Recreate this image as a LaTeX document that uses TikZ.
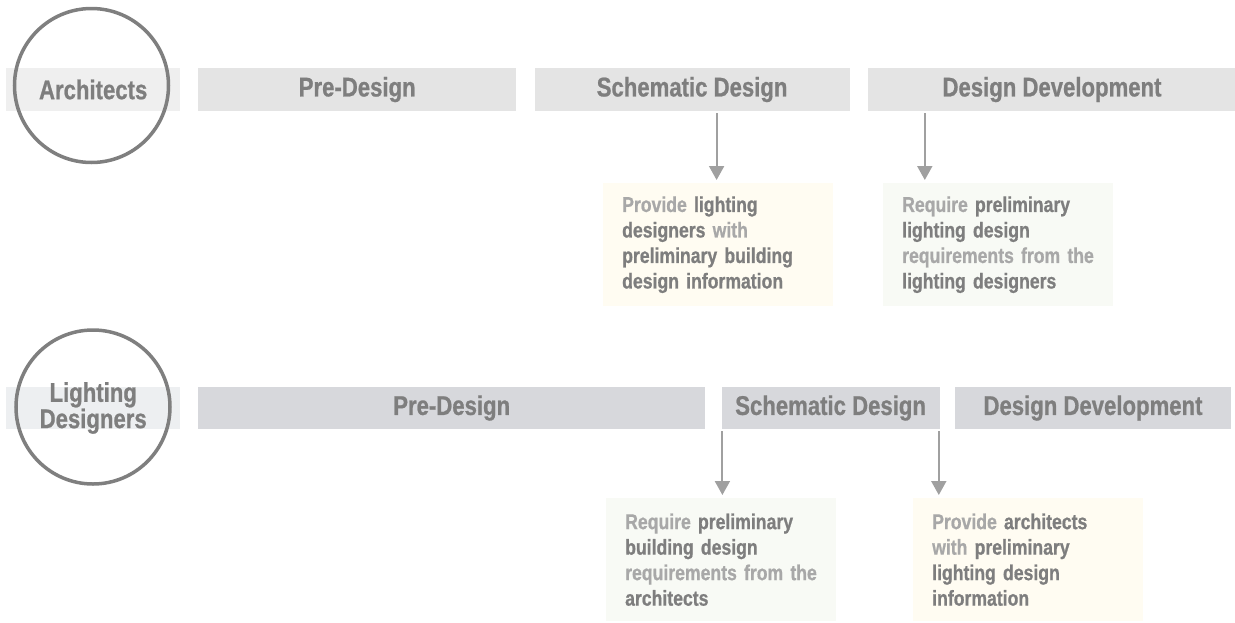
\documentclass[tikz,border=0pt]{standalone}
\usepackage{fontspec}
\setmainfont{Liberation Sans}[FakeStretch=0.82, BoldFeatures={FakeBold=0.8}]
\usepackage{xcolor}
\usetikzlibrary{positioning, arrows.meta}

\definecolor{barA}{HTML}{E4E4E4}
\definecolor{barB}{HTML}{D7D8DC}
\definecolor{roleA}{HTML}{EFEFEF}
\definecolor{roleB}{HTML}{EDEFF1}
\definecolor{ringgray}{HTML}{7F7F7F}
\definecolor{darktxt}{HTML}{7E7E7E}
\definecolor{softtxt}{HTML}{A8A8A8}
\definecolor{arrowgray}{HTML}{A0A0A0}
\definecolor{warm}{HTML}{FFFCF2}
\definecolor{cool}{HTML}{F8FAF5}

\newcommand{\soft}[1]{\textcolor{softtxt}{#1}}

\begin{document}
\begin{tikzpicture}[x=1pt, y=-1pt, >={Triangle[width=15pt,length=14pt]},
    phase/.style={inner sep=0pt, anchor=west, text=darktxt,
        font=\bfseries\fontsize{27}{23}\selectfont},
    phaseA/.style={phase, fill=barA, minimum height=43pt},
    phaseB/.style={phase, fill=barB, minimum height=42pt},
    ring/.style={draw=ringgray, line width=3.5pt, circle, minimum size=154pt, inner sep=0pt},
    note/.style={anchor=north west, minimum width=230pt, minimum height=123pt,
        inner xsep=19pt, text width=192pt, align=left, text=darktxt,
        font=\bfseries\fontsize{21.5}{25.5}\selectfont},
    flow/.style={->, draw=arrowgray, line width=2pt, shorten <=2pt, shorten >=3pt}]
    \useasboundingbox (0,0) rectangle (1235,622);

    \node[phaseA, fill=roleA, minimum width=174pt] (arch) at (6,89.5) {Architects};
    \node[ring] (archRing) at (91.5,85.5) {};
    \node[phaseA, minimum width=318pt] (preA) at (198,89.5) {Pre-Design};
    \node[phaseA, minimum width=315pt, right=18pt of preA] (schA) {Schematic Design};
    \node[phaseA, minimum width=368pt, right=18pt of schA] (devA) {Design Development};

    \node[phaseB, fill=roleB, minimum width=174pt] (lightBar) at (6,408) {};
    \node[ring] (lightRing) at (93,407) {};
    \node[phase, anchor=center, align=center] (light) at (lightBar) {Lighting\\Designers};
    \node[phaseB, minimum width=507pt] (preB) at (198,408) {Pre-Design};
    \node[phaseB, minimum width=218pt, right=16pt of preB] (schB) {Schematic Design};
    \node[phaseB, minimum width=276pt, right=15pt of schB] (devB) {Design Development};

    \node[note, fill=warm] (noteA1) at (603,183)
        {\soft{Provide} lighting\\designers \soft{with}\\preliminary building\\design information};
    \node[note, fill=cool] (noteA2) at (883,183)
        {\soft{Require} preliminary\\lighting design\\\soft{requirements from the}\\lighting designers};
    \node[note, fill=cool] (noteB1) at (606,498)
        {\soft{Require} preliminary\\building design\\\soft{requirements from the}\\architects};
    \node[note, fill=warm] (noteB2) at (913,498)
        {\soft{Provide} architects\\\soft{with} preliminary\\lighting design\\information};

    \draw[flow] ([xshift=24.5pt]schA.south) coordinate (tapA1) -- (tapA1 |- noteA1.north);
    \draw[flow] ([xshift=57pt]devA.south west) coordinate (tapA2) -- (tapA2 |- noteA2.north);
    \draw[flow] ([xshift=1pt]schB.south west) coordinate (tapB1) -- (tapB1 |- noteB1.north);
    \draw[flow] ([xshift=-1pt]schB.south east) coordinate (tapB2) -- (tapB2 |- noteB2.north);
\end{tikzpicture}
\end{document}
